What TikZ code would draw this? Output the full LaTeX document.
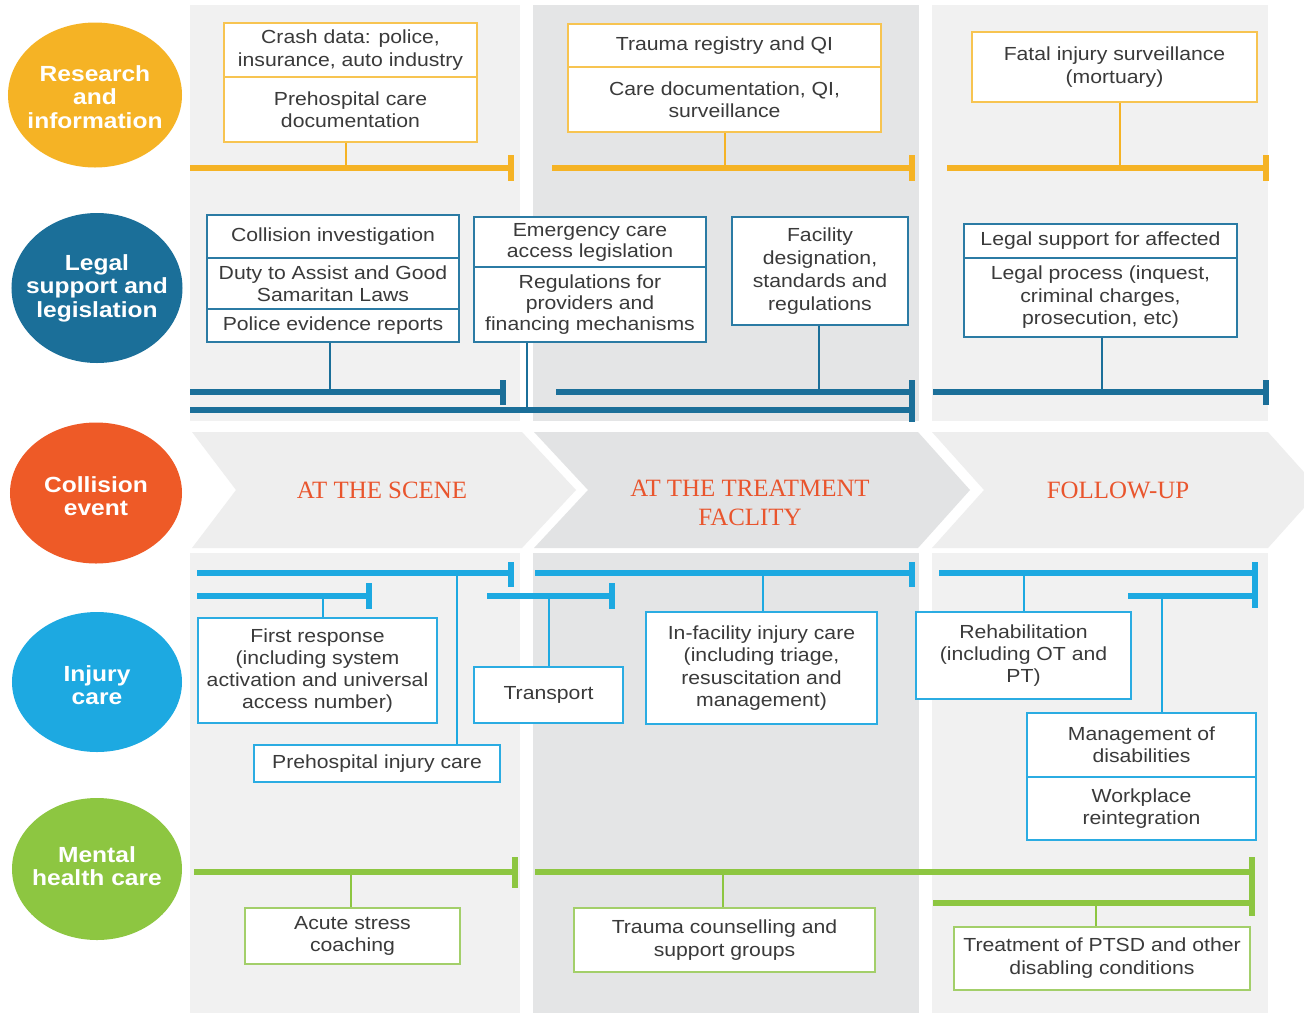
\documentclass[tikz,border=0pt]{standalone}
\usepackage{fontspec}
\setmainfont{Liberation Sans}[FakeStretch=1.12]
\newfontfamily\phasefont{Liberation Serif}
\usetikzlibrary{shapes.geometric,calc}
\definecolor{panelA}{HTML}{F1F1F1}
\definecolor{panelB}{HTML}{E4E5E6}
\definecolor{chevA}{HTML}{EEEEEE}
\definecolor{chevB}{HTML}{E2E3E4}
\definecolor{ylw}{HTML}{F5B325}
\definecolor{ylwbox}{HTML}{F7C451}
\definecolor{dblue}{HTML}{1B6F99}
\definecolor{dbluebox}{HTML}{2B7BA4}
\definecolor{lblue}{HTML}{1DA9E1}
\definecolor{lbluebox}{HTML}{2BACE2}
\definecolor{grn}{HTML}{8DC641}
\definecolor{grnbox}{HTML}{A3CF6A}
\definecolor{orng}{HTML}{EE5A27}
\definecolor{phasetxt}{HTML}{E9552D}
\definecolor{txtc}{HTML}{3A3A3A}
\tikzset{
  tbox/.style={draw, fill=white, line width=1.8bp, inner sep=1bp, align=center, text=txtc,
    font=\fontsize{19}{22.5}\selectfont},
  ybox/.style={tbox, draw=ylwbox},
  dbox/.style={tbox, draw=dbluebox},
  lbox/.style={tbox, draw=lbluebox},
  gbox/.style={tbox, draw=grnbox},
  hseg/.style={line width=5.5bp},
  vseg/.style={line width=2.5bp},
  endbar/.style={line width=5.5bp},
  circ/.style={ellipse, inner sep=0pt},
  circtext/.style={text=white, align=center, inner sep=0pt,
    font=\bfseries\fontsize{22}{23.5}\selectfont},
  phase/.style={text=phasetxt, align=center, font=\phasefont\fontsize{25}{29}\selectfont},
}
\begin{document}
\begin{tikzpicture}[x=1bp,y=-1bp]
\useasboundingbox (0,0) rectangle (1304,1016);
\clip (0,0) rectangle (1304,1016);
\fill[white] (0,0) rectangle (1304,1016);
% panels
\fill[panelA] (190,5) rectangle (520,421);
\fill[panelB] (533,5) rectangle (919,421);
\fill[panelA] (932,5) rectangle (1268,421);
\fill[panelA] (190,553) rectangle (520,1013);
\fill[panelB] (533,553) rectangle (919,1013);
\fill[panelA] (932,553) rectangle (1268,1013);
% chevrons
\fill[chevA] (192,432) -- (522,432) -- (576,490) -- (522,548) -- (192,548) -- (236,490) -- cycle;
\fill[chevB] (534,432) -- (918,432) -- (970,490) -- (918,548) -- (534,548) -- (588,490) -- cycle;
\fill[chevA] (932,432) -- (1268,432) -- (1320,490) -- (1268,548) -- (932,548) -- (984,490) -- cycle;
\node[phase] (ph1) at (382,490) {AT THE SCENE};
\node[phase] (ph2) at (750,503) {AT THE TREATMENT\\FACLITY};
\node[phase] (ph3) at (1118,490) {FOLLOW-UP};
% circles
\node[circ, fill=ylw, minimum width=174bp, minimum height=145bp] (c1) at (95,95) {};
\node[circ, fill=dblue, minimum width=171bp, minimum height=150bp] (c2) at (97,288) {};
\node[circ, fill=orng, minimum width=172bp, minimum height=141bp] (c3) at (96,493) {};
\node[circ, fill=lblue, minimum width=170bp, minimum height=140bp] (c4) at (97,682) {};
\node[circ, fill=grn, minimum width=170bp, minimum height=142bp] (c5) at (97,869) {};
\node[circtext] (t1) at ($(c1)+(0,2)$) {Research\\and\\information};
\node[circtext] (t2) at (c2) {Legal\\support and\\legislation};
\node[circtext] (t3) at ($(c3)+(0,3)$) {Collision\\event};
\node[circtext] (t4) at ($(c4)+(0,3)$) {Injury\\care};
\node[circtext] (t5) at ($(c5)+(0,-3)$) {Mental\\health care};
% ---------- research (yellow)
\node[ybox, minimum width=253bp, minimum height=54bp] (A1) at (350.5,50) {Crash data: police,\\insurance, auto industry};
\node[ybox, minimum width=253bp, minimum height=65bp] (A2) at (350.5,109.5) {Prehospital care\\documentation};
\node[ybox, minimum width=313bp, minimum height=43bp] (B1) at (724.5,45.5) {Trauma registry and QI};
\node[ybox, minimum width=313bp, minimum height=65bp] (B2) at (724.5,99.5) {Care documentation, QI,\\surveillance};
\node[ybox, minimum width=285bp, minimum height=70bp] (C) at (1114.5,67) {Fatal injury surveillance\\(mortuary)};
\coordinate (y1s) at (190,168); \coordinate (y1e) at (511,168);
\coordinate (y2s) at (552,168); \coordinate (y2e) at (912,168);
\coordinate (y3s) at (947,168); \coordinate (y3e) at (1266,168);
\coordinate (ya) at (346,168); \coordinate (yb) at (725,168); \coordinate (yc) at (1120,168);
\draw[ylw,vseg] (A2.south -| ya) -- (ya);
\draw[ylw,vseg] (B2.south -| yb) -- (yb);
\draw[ylw,vseg] (C.south -| yc) -- (yc);
\draw[ylw,hseg] (y1s) -- (y1e);
\draw[ylw,hseg] (y2s) -- (y2e);
\draw[ylw,hseg] (y3s) -- (y3e);
\foreach \e in {y1e,y2e,y3e} \draw[ylw,endbar] ($(\e)+(0,-13)$) -- ($(\e)+(0,13)$);
% ---------- legal (dark blue)
\node[dbox, minimum width=252bp, minimum height=43bp] (D1) at (333,236.5) {Collision investigation};
\node[dbox, minimum width=252bp, minimum height=51bp] (D2) at (333,283.5) {Duty to Assist and Good\\Samaritan Laws};
\node[dbox, minimum width=252bp, minimum height=33bp] (D3) at (333,325.5) {Police evidence reports};
\node[dbox, minimum width=232bp, minimum height=50bp, font=\fontsize{19}{21}\selectfont] (E1) at (590,242) {Emergency care\\access legislation};
\node[dbox, minimum width=232bp, minimum height=75bp, font=\fontsize{19}{21}\selectfont] (E2) at (590,304.5) {Regulations for\\providers and\\financing mechanisms};
\node[dbox, minimum width=176bp, minimum height=108bp, font=\fontsize{19}{23}\selectfont] (F) at (820,271) {Facility\\designation,\\standards and\\regulations};
\node[dbox, minimum width=273bp, minimum height=34bp] (G1) at (1100.5,241) {Legal support for affected};
\node[dbox, minimum width=273bp, minimum height=79bp] (G2) at (1100.5,297.5) {Legal process (inquest,\\criminal charges,\\prosecution, etc)};
\coordinate (b1s) at (190,392); \coordinate (b1e) at (503,392);
\coordinate (b2s) at (556,392); \coordinate (b2e) at (912,392);
\coordinate (b3s) at (933,392); \coordinate (b3e) at (1266,392);
\coordinate (b4s) at (190,410); \coordinate (b4e) at (912,410);
\coordinate (bd) at (330,392); \coordinate (be) at (527,410);
\coordinate (bf) at (819,392); \coordinate (bg) at (1102,392);
\draw[dblue,vseg] (D3.south -| bd) -- (bd);
\draw[dblue,vseg] (E2.south -| be) -- (be);
\draw[dblue,vseg] (F.south -| bf) -- (bf);
\draw[dblue,vseg] (G2.south -| bg) -- (bg);
\draw[dblue,hseg] (b1s) -- (b1e);
\draw[dblue,hseg] (b2s) -- (b2e);
\draw[dblue,hseg] (b3s) -- (b3e);
\draw[dblue,hseg] (b4s) -- (b4e);
\draw[dblue,endbar] ($(b1e)+(0,-12)$) -- ($(b1e)+(0,13)$);
\draw[dblue,endbar] ($(b2e)+(0,-12)$) -- ($(b4e)+(0,12)$);
\draw[dblue,endbar] ($(b3e)+(0,-12)$) -- ($(b3e)+(0,13)$);
% ---------- injury care (light blue)
\node[lbox, minimum width=239bp, minimum height=105bp, font=\fontsize{19}{22}\selectfont] (H) at (317.5,670.5) {First response\\(including system\\activation and universal\\access number)};
\node[lbox, minimum width=246bp, minimum height=37bp] (I) at (377,763.5) {Prehospital injury care};
\node[lbox, minimum width=149bp, minimum height=56bp] (J) at (548.5,695) {Transport};
\node[lbox, minimum width=231bp, minimum height=112bp, font=\fontsize{19}{22.5}\selectfont] (K) at (761.5,668) {In-facility injury care\\(including triage,\\resuscitation and\\management)};
\node[lbox, minimum width=215bp, minimum height=87bp, font=\fontsize{19}{22}\selectfont] (L) at (1023.5,655.5) {Rehabilitation\\(including OT and\\PT)};
\node[lbox, minimum width=229bp, minimum height=64bp, font=\fontsize{19}{22}\selectfont] (M1) at (1141.5,745) {Management of\\disabilities};
\node[lbox, minimum width=229bp, minimum height=63bp, font=\fontsize{19}{22}\selectfont] (M2) at (1141.5,808.5) {Workplace\\reintegration};
\coordinate (l1s) at (197,573); \coordinate (l1e) at (511,573);
\coordinate (l2s) at (197,596); \coordinate (l2e) at (369,596);
\coordinate (l3s) at (487,596); \coordinate (l3e) at (612,596);
\coordinate (l4s) at (535,573); \coordinate (l4e) at (912,573);
\coordinate (l5s) at (939,573); \coordinate (l5e) at (1255,573);
\coordinate (l6s) at (1128,596); \coordinate (l6e) at (1255,596);
\coordinate (lh) at (323,596); \coordinate (li) at (457,573);
\coordinate (lj) at (549,596); \coordinate (lk) at (763,573);
\coordinate (ll) at (1024,573); \coordinate (lm) at (1162,596);
\draw[lblue,vseg] (lh) -- (H.north -| lh);
\draw[lblue,vseg] (li) -- (I.north -| li);
\draw[lblue,vseg] (lj) -- (J.north -| lj);
\draw[lblue,vseg] (lk) -- (K.north -| lk);
\draw[lblue,vseg] (ll) -- (L.north -| ll);
\draw[lblue,vseg] (lm) -- (M1.north -| lm);
\foreach \s/\e in {l1s/l1e,l2s/l2e,l3s/l3e,l4s/l4e,l5s/l5e,l6s/l6e} \draw[lblue,hseg] (\s) -- (\e);
\draw[lblue,endbar] ($(l1e)+(0,-11)$) -- ($(l1e)+(0,14)$);
\draw[lblue,endbar] ($(l2e)+(0,-13)$) -- ($(l2e)+(0,13)$);
\draw[lblue,endbar] ($(l3e)+(0,-13)$) -- ($(l3e)+(0,13)$);
\draw[lblue,endbar] ($(l4e)+(0,-11)$) -- ($(l4e)+(0,14)$);
\draw[lblue,endbar] ($(l5e)+(0,-11)$) -- ($(l6e)+(0,12)$);
% ---------- mental health (green)
\node[gbox, minimum width=215bp, minimum height=56bp, font=\fontsize{19}{22}\selectfont] (N) at (352.5,936) {Acute stress\\coaching};
\node[gbox, minimum width=301bp, minimum height=64bp, font=\fontsize{19}{23}\selectfont] (O) at (724.5,940) {Trauma counselling and\\support groups};
\node[gbox, minimum width=296bp, minimum height=63bp, font=\fontsize{19}{23}\selectfont] (P) at (1102,958.5) {Treatment of PTSD and other\\disabling conditions};
\coordinate (g1s) at (194,872); \coordinate (g1e) at (515,872);
\coordinate (g2s) at (535,872); \coordinate (g2e) at (1252,872);
\coordinate (g3s) at (933,903); \coordinate (g3e) at (1252,903);
\coordinate (gn) at (351,872); \coordinate (go) at (723,872); \coordinate (gp) at (1096,903);
\draw[grn,vseg] (gn) -- (N.north -| gn);
\draw[grn,vseg] (go) -- (O.north -| go);
\draw[grn,vseg] (gp) -- (P.north -| gp);
\draw[grn,hseg] (g1s) -- (g1e);
\draw[grn,hseg] (g2s) -- (g2e);
\draw[grn,hseg] (g3s) -- (g3e);
\draw[grn,endbar] ($(g1e)+(0,-15)$) -- ($(g1e)+(0,16)$);
\draw[grn,endbar] ($(g2e)+(0,-15)$) -- ($(g3e)+(0,13)$);
\end{tikzpicture}
\end{document}
